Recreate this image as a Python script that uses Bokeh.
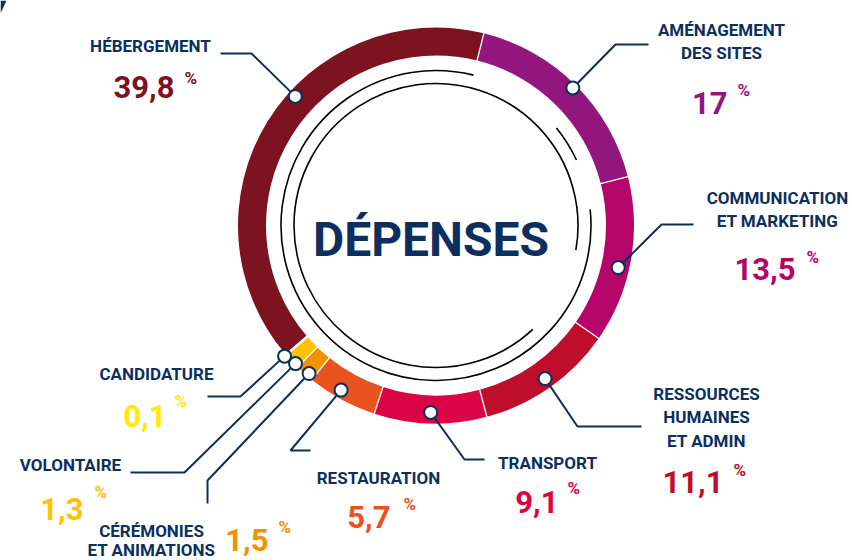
import math
from bokeh.plotting import figure
from bokeh.models import Range1d
from bokeh.core.properties import value
from bokeh.embed import file_html
from bokeh.resources import INLINE

# ---------------- data ----------------
title = "DÉPENSES"
category_lines = [
    ["HÉBERGEMENT"],
    ["AMÉNAGEMENT", "DES SITES"],
    ["COMMUNICATION", "ET MARKETING"],
    ["RESSOURCES", "HUMAINES", "ET ADMIN"],
    ["TRANSPORT"],
    ["RESTAURATION"],
    ["CÉRÉMONIES", "ET ANIMATIONS"],
    ["VOLONTAIRE"],
    ["CANDIDATURE"],
]
shares = [39.8, 17, 13.5, 11.1, 9.1, 5.7, 1.5, 1.3, 0.1]

# ---------------- style ----------------
colors = ["#7D1220", "#93157E", "#B5056A", "#BE0E2B", "#DA0446",
          "#E8531F", "#F39200", "#FFC400", "#FFEA00"]
NAVY = "#0D2F5E"
FONT = value("Roboto")
W, H = 852, 560
CX, CY = 435.5, 225.0          # ring centre (page px)
R_IN, R_OUT = 170, 198
START_CW = 229.4               # clockwise-from-top start angle of first slice

# dot placement within slice (fraction of slice, radius)
dot_frac = [0.575, 0.5, 0.556, 0.49, 0.5, 0.57, 0.32, 0.25, 0.5]
dot_rad = [191, 194, 187, 188, 187, 190, 195, 197, 200]
# leader elbows / ends (page px)
elbows = [(251, 53), (615, 44), (661, 224), (577, 426), (464, 459),
          (290, 450), (207, 480), (184, 472), (240, 396)]
ends = [(220, 53), (648, 44), (693, 224), (641, 426), (484, 459),
        (310, 450), (207, 503), (130, 472), (207, 396)]
# label layout: centre x, baselines of category lines, value right edge, value baseline, % x, % top
lab_cx = [150, 721, 777, 706, 547, 378, 151, 70, 156]
lab_base = [[45], [29, 52], [197, 220], [393, 416, 440], [462], [477], [530, 549], [464], [373]]
val_right = [174, 727, 795, 723, 558, 390, 268, 83, 166]
val_base = [86, 102, 268, 481, 501, 516, 539, 508, 415]
pct_x = [184, 737, 806, 733, 567, 403, 278, 94, 174]
pct_top = [64, 76, 243, 456, 474, 490, 513, 478, 387]


def Y(py):
    return -py


p = figure(width=W, height=H, output_backend="svg", toolbar_location=None,
           x_range=Range1d(0, W), y_range=Range1d(-H, 0),
           x_axis_location=None, y_axis_location=None, min_border=0)
p.grid.visible = False
p.outline_line_color = None
p.background_fill_color = "white"

total = sum(shares)
spans = [s / total * 360.0 for s in shares]
starts = []
c = START_CW
for s in spans:
    starts.append(c)
    c += s

# ring slices
for st, sp, col in zip(starts, spans, colors):
    p.annular_wedge(x=CX, y=Y(CY), inner_radius=R_IN, outer_radius=R_OUT,
                    start_angle=math.radians(90 - (st + sp)),
                    end_angle=math.radians(90 - st),
                    fill_color=col, line_color=None)

# white separators
for st in starts:
    t = math.radians(st)
    p.segment(x0=CX + (R_IN - 2) * math.sin(t), y0=Y(CY) + (R_IN - 2) * math.cos(t),
              x1=CX + (R_OUT + 2) * math.sin(t), y1=Y(CY) + (R_OUT + 2) * math.cos(t),
              line_color="white", line_width=1.3)

# decorative inner arcs
p.arc(x=CX, y=Y(CY), radius=142, start_angle=math.radians(-10),
      end_angle=math.radians(313), line_color="black", line_width=1.6)
p.arc(x=CX, y=Y(CY), radius=155, start_angle=math.radians(76),
      end_angle=math.radians(366), line_color="black", line_width=1.6)
p.arc(x=CX, y=Y(CY), radius=155, start_angle=math.radians(25),
      end_angle=math.radians(39), line_color="black", line_width=1.6)

# small navy corner fragment (decoration)
p.patch(x=[0, 6, 0], y=[Y(0), Y(0), Y(13)], fill_color=NAVY, line_color=None)

# leaders + dots
dxs, dys = [], []
for i, (st, sp) in enumerate(zip(starts, spans)):
    t = math.radians(st + dot_frac[i] * sp)
    dx = CX + dot_rad[i] * math.sin(t)
    dy = Y(CY) + dot_rad[i] * math.cos(t)
    dxs.append(dx)
    dys.append(dy)
    p.line(x=[dx, elbows[i][0], ends[i][0]], y=[dy, Y(elbows[i][1]), Y(ends[i][1])],
           line_color=NAVY, line_width=2)
p.scatter(x=dxs, y=dys, size=13, marker="circle", fill_color="white",
          line_color=NAVY, line_width=2)

# title
p.text(x=[CX - 5], y=[Y(239)], text=[title], text_font=FONT, text_font_style="bold",
       text_font_size="48px", text_color=NAVY, text_align="center",
       text_baseline="alphabetic")

# labels
for i, lines in enumerate(category_lines):
    p.text(x=[lab_cx[i]] * len(lines), y=[Y(b) for b in lab_base[i]], text=lines,
           text_font=FONT, text_font_style="bold", text_font_size="17px",
           text_color=NAVY, text_align="center", text_baseline="alphabetic")
    vtxt = f"{shares[i]:g}".replace(".", ",")
    p.text(x=[val_right[i]], y=[Y(val_base[i])], text=[vtxt], text_font=FONT,
           text_font_style="bold", text_font_size="31px", text_color=colors[i],
           text_align="right", text_baseline="alphabetic")
    p.text(x=[pct_x[i]], y=[Y(pct_top[i] + 13)], text=["%"], text_font=FONT,
           text_font_style="bold", text_font_size="17px", text_color=colors[i],
           text_align="left", text_baseline="alphabetic")

open("out.html", "w").write(file_html(p, INLINE))
